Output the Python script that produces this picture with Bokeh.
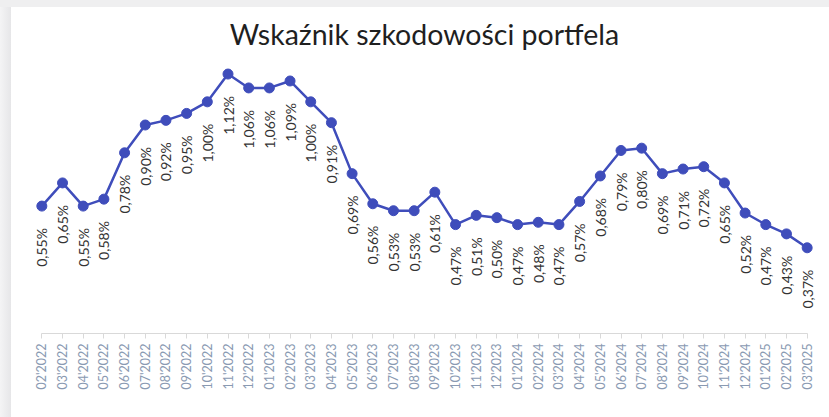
import numpy as np
from bokeh.plotting import figure
from bokeh.layouts import column, row
from bokeh.models import Range1d, FixedTicker, ColumnDataSource, Spacer
from bokeh.embed import file_html
from bokeh.resources import INLINE
from bokeh.core.properties import value

months = ["02'2022", "03'2022", "04'2022", "05'2022", "06'2022", "07'2022", "08'2022",
          "09'2022", "10'2022", "11'2022", "12'2022",
          "01'2023", "02'2023", "03'2023", "04'2023", "05'2023", "06'2023", "07'2023",
          "08'2023", "09'2023", "10'2023", "11'2023", "12'2023",
          "01'2024", "02'2024", "03'2024", "04'2024", "05'2024", "06'2024", "07'2024",
          "08'2024", "09'2024", "10'2024", "11'2024", "12'2024",
          "01'2025", "02'2025", "03'2025"]
rates = [0.55, 0.65, 0.55, 0.58, 0.78, 0.90, 0.92, 0.95, 1.00, 1.12, 1.06,
         1.06, 1.09, 1.00, 0.91, 0.69, 0.56, 0.53, 0.53, 0.61, 0.47, 0.51, 0.50,
         0.47, 0.48, 0.47, 0.57, 0.68, 0.79, 0.80, 0.69, 0.71, 0.72, 0.65, 0.52,
         0.47, 0.43, 0.37]
title_text = "Wskaźnik szkodowości portfela"

labels = [f"{v:.2f}%".replace(".", ",") for v in rates]
xs = list(range(len(months)))
src = ColumnDataSource(dict(x=xs, y=rates, lab=labels))

FONT = "Lato"
LINE = "#3F4DBB"

p = figure(width=818, height=410, output_backend="svg", toolbar_location=None,
           x_range=Range1d(-0.5, len(months) - 0.5), y_range=Range1d(0, 1.2),
           y_axis_location=None, title=title_text,
           min_border_left=20, min_border_right=12, min_border_top=48, min_border_bottom=84)
p.outline_line_color = None
p.xgrid.visible = False
p.ygrid.visible = False
p.background_fill_color = "white"
p.border_fill_color = "white"

p.title.align = "center"
p.title.text_font = FONT
p.title.text_font_size = "28.5px"
p.title.text_font_style = "normal"
p.title.text_color = "#1f1f1f"

ax = p.xaxis[0]
ax.ticker = FixedTicker(ticks=xs)
ax.major_label_overrides = {i: m for i, m in enumerate(months)}
ax.bounds = (0, len(months) - 1)
ax.major_label_orientation = np.pi / 2
ax.axis_line_color = "#d9d9d9"
ax.axis_line_width = 1
ax.major_tick_line_color = "#d9d9d9"
ax.major_tick_out = 5
ax.major_tick_in = 0
ax.minor_tick_line_color = None
ax.major_label_standoff = 5
ax.major_label_text_font = FONT
ax.major_label_text_font_size = "12.5px"
ax.major_label_text_color = "#8a9ab2"

p.line("x", "y", source=src, line_color=LINE, line_width=2.5)
p.scatter("x", "y", source=src, size=10, fill_color=LINE, line_color=LINE)
p.text("x", "y", text="lab", source=src, angle=np.pi / 2, text_align="right",
       text_baseline="middle", y_offset=22, text_font=value(FONT),
       text_font_size="14px", text_color="#333333")

top_strip = Spacer(width=829, height=7, styles={"background": "#efeff0"})
left_strip = Spacer(width=11, height=410,
                    styles={"background": "linear-gradient(to right, #f4f4f5, #e6e6e8)"})
page = column(top_strip, row(left_strip, p, spacing=0), spacing=0)

open("out.html", "w").write(file_html(page, INLINE))
